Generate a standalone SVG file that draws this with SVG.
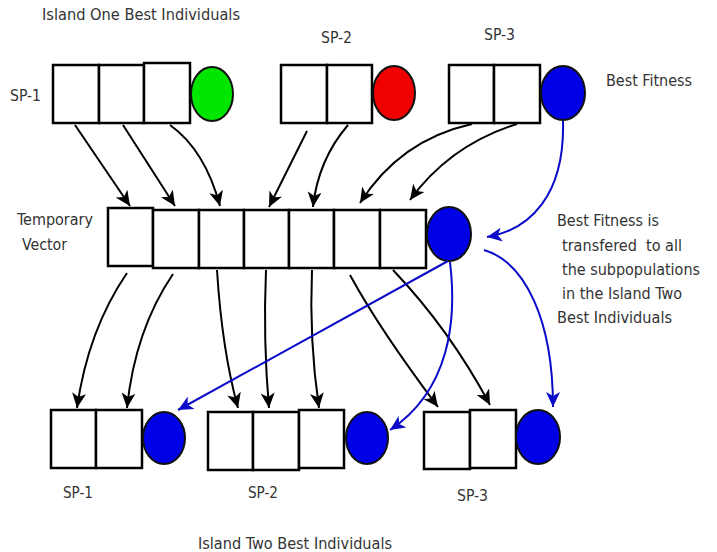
<svg xmlns="http://www.w3.org/2000/svg" width="717" height="552" viewBox="0 0 717 552">
<style>
.box{fill:#fff;stroke:#000;stroke-width:2.5}
.dot{stroke:#111;stroke-width:2}
.lbl{font-family:"DejaVu Sans Condensed","DejaVu Sans",sans-serif;font-size:16px;fill:#333;white-space:pre}
.blk{fill:none;stroke:#000;stroke-width:2;marker-end:url(#ak)}
.blu{fill:none;stroke:#0a0ac8;stroke-width:2;marker-end:url(#ab)}
</style>
<defs>
<marker id="ak" markerUnits="userSpaceOnUse" markerWidth="16" markerHeight="14" refX="15" refY="7" orient="auto">
<path d="M0,0 L15,7 L0,14 L4,7 z" fill="#000"/>
</marker>
<marker id="ab" markerUnits="userSpaceOnUse" markerWidth="16" markerHeight="14" refX="15" refY="7" orient="auto">
<path d="M0,0 L15,7 L0,14 L4,7 z" fill="#0a0ac8"/>
</marker>
</defs>
<rect width="717" height="552" fill="#fff"/>

<text class="lbl" x="42" y="20" textLength="198" lengthAdjust="spacingAndGlyphs">Island One Best Individuals</text>

<g id="sp1-top">
<text class="lbl" x="10" y="101" textLength="31" lengthAdjust="spacingAndGlyphs">SP-1</text>
<rect class="box" x="53" y="65" width="46" height="58"/>
<rect class="box" x="99" y="65" width="45" height="58"/>
<rect class="box" x="144" y="63" width="46" height="60"/>
<ellipse class="dot" cx="212" cy="94" rx="21" ry="27" fill="#00e600"/>
</g>

<g id="sp2-top">
<text class="lbl" x="321" y="43" textLength="31" lengthAdjust="spacingAndGlyphs">SP-2</text>
<rect class="box" x="281" y="65" width="46" height="58"/>
<rect class="box" x="327" y="65" width="45" height="58"/>
<ellipse class="dot" cx="394" cy="93" rx="21" ry="27" fill="#f00000"/>
</g>

<g id="sp3-top">
<text class="lbl" x="484" y="40" textLength="31" lengthAdjust="spacingAndGlyphs">SP-3</text>
<rect class="box" x="449" y="65" width="45" height="58"/>
<rect class="box" x="494" y="65" width="46" height="58"/>
<ellipse class="dot" cx="563" cy="93" rx="22" ry="27" fill="#0000e6"/>
<text class="lbl" x="606" y="86" textLength="86" lengthAdjust="spacingAndGlyphs">Best Fitness</text>
</g>

<g id="temporary-vector">
<text class="lbl" x="17" y="225" textLength="76" lengthAdjust="spacingAndGlyphs">Temporary</text>
<text class="lbl" x="22" y="250" textLength="45" lengthAdjust="spacingAndGlyphs">Vector</text>
<rect class="box" x="108" y="208" width="45" height="58"/>
<rect class="box" x="153" y="210" width="46" height="58"/>
<rect class="box" x="199" y="210" width="45" height="58"/>
<rect class="box" x="244" y="210" width="45" height="58"/>
<rect class="box" x="289" y="210" width="45" height="58"/>
<rect class="box" x="334" y="210" width="46" height="58"/>
<rect class="box" x="380" y="210" width="46" height="58"/>
<ellipse class="dot" cx="449" cy="234" rx="22" ry="27" fill="#0000e6"/>
</g>

<g id="note">
<text class="lbl" x="557" y="226" textLength="102" lengthAdjust="spacingAndGlyphs">Best Fitness is</text>
<text class="lbl" x="562" y="251" textLength="120" lengthAdjust="spacingAndGlyphs" xml:space="preserve">transfered  to all</text>
<text class="lbl" x="562" y="275" textLength="138" lengthAdjust="spacingAndGlyphs">the subpopulations</text>
<text class="lbl" x="562" y="299" textLength="120" lengthAdjust="spacingAndGlyphs">in the Island Two</text>
<text class="lbl" x="557" y="323" textLength="115" lengthAdjust="spacingAndGlyphs">Best Individuals</text>
</g>

<g id="sp1-bottom">
<rect class="box" x="51" y="410" width="45" height="58"/>
<rect class="box" x="96" y="410" width="46" height="58"/>
<ellipse class="dot" cx="164" cy="438" rx="21" ry="26" fill="#0000e6"/>
<text class="lbl" x="63" y="498" textLength="30" lengthAdjust="spacingAndGlyphs">SP-1</text>
</g>

<g id="sp2-bottom">
<rect class="box" x="208" y="412" width="45" height="58"/>
<rect class="box" x="253" y="412" width="46" height="58"/>
<rect class="box" x="299" y="410" width="45" height="58"/>
<ellipse class="dot" cx="367" cy="438" rx="21" ry="26" fill="#0000e6"/>
<text class="lbl" x="248" y="498" textLength="30" lengthAdjust="spacingAndGlyphs">SP-2</text>
</g>

<g id="sp3-bottom">
<rect class="box" x="424" y="412" width="46" height="57"/>
<rect class="box" x="470" y="410" width="46" height="58"/>
<ellipse class="dot" cx="538" cy="437" rx="22" ry="27" fill="#0000e6"/>
<text class="lbl" x="457" y="501" textLength="31" lengthAdjust="spacingAndGlyphs">SP-3</text>
</g>

<text class="lbl" x="198" y="549" textLength="194" lengthAdjust="spacingAndGlyphs">Island Two Best Individuals</text>

<g id="connectors">
<path class="blk" d="M75,125 L130,206"/>
<path class="blk" d="M123,125 L175,206"/>
<path class="blk" d="M170,125 Q205,150 220,206"/>
<path class="blk" d="M307,131 Q290,165 269,207"/>
<path class="blk" d="M348,125 Q318,160 313,207"/>
<path class="blk" d="M472,124 Q400,140 360,203"/>
<path class="blk" d="M517,124 Q450,145 410,200"/>

<path class="blk" d="M127,273 Q88,330 77,408"/>
<path class="blk" d="M173,274 Q135,330 127,408"/>
<path class="blk" d="M217,270 Q222,350 238,408"/>
<path class="blk" d="M266,270 Q263,340 269,408"/>
<path class="blk" d="M312,270 Q309,340 319,408"/>
<path class="blk" d="M350,275 Q380,330 438,407"/>
<path class="blk" d="M393,270 Q450,330 490,405"/>

<path class="blu" d="M563,121 C565,195 530,230 487,237"/>
<path class="blu" d="M448,261 L178,410"/>
<path class="blu" d="M450,262 C457,320 450,390 390,430"/>
<path class="blu" d="M484,250 C525,262 553,320 553,407"/>
</g>
</svg>
